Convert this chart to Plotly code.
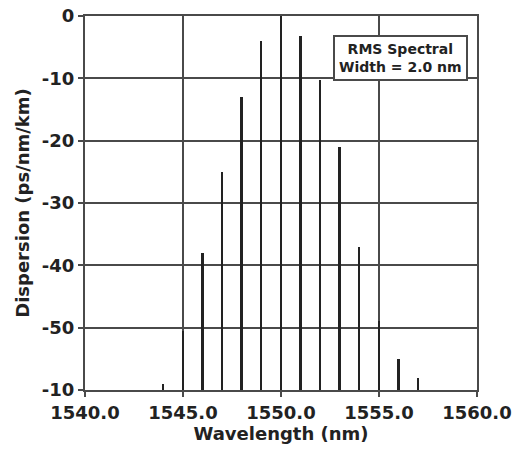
import plotly.graph_objects as go

# Data
wavelength_nm = [1544, 1545, 1546, 1547, 1548, 1549, 1550, 1551, 1552, 1553, 1554, 1555, 1556, 1557]
dispersion = [-59, -50.5, -38, -25, -13, -4, 0, -3.2, -10.3, -21, -37, -49, -55, -58]
y_min = -60
x_ticks = [1540, 1545, 1550, 1555, 1560]
x_tick_labels = ["1540.0", "1545.0", "1550.0", "1555.0", "1560.0"]
y_ticks = [0, -10, -20, -30, -40, -50, -60]
y_tick_labels = ["0", "-10", "-20", "-30", "-40", "-50", "-10"]
note_lines = ["RMS Spectral", "Width = 2.0 nm"]

FONT = "DejaVu Sans"
INK = "#222222"
GRID = "#4a4a4a"

fig = go.Figure()
fig.add_trace(go.Bar(
    x=wavelength_nm,
    y=[v - y_min for v in dispersion],
    base=y_min,
    width=0.1,
    marker=dict(color=INK, line=dict(width=0)),
    showlegend=False,
))

fig.update_layout(
    width=515, height=452,
    margin=dict(l=85, r=38, t=16, b=62),
    paper_bgcolor="white", plot_bgcolor="white",
    font=dict(family=FONT, color=INK, size=18),
    bargap=0,
    xaxis=dict(
        range=[1540, 1560], automargin=False,
        tickvals=x_ticks, ticktext=x_tick_labels,
        showgrid=True, gridcolor=GRID, gridwidth=2,
        showline=True, linecolor=GRID, linewidth=2, mirror=True,
        ticks="outside", ticklen=5, tickwidth=2, tickcolor=GRID,
        tickfont=dict(family=FONT, size=18, color=INK, weight="bold"),
        title=dict(text="<b>Wavelength (nm)</b>", font=dict(family=FONT, size=18, color=INK), standoff=6),
        zeroline=False,
    ),
    yaxis=dict(
        range=[y_min, 0], automargin=False,
        tickvals=y_ticks, ticktext=y_tick_labels,
        showgrid=True, gridcolor=GRID, gridwidth=2,
        showline=True, linecolor=GRID, linewidth=2, mirror=True,
        ticks="outside", ticklen=5, tickwidth=2, tickcolor=GRID,
        tickfont=dict(family=FONT, size=18, color=INK, weight="bold"),
        title=dict(text="<b>Dispersion (ps/nm/km)</b>", font=dict(family=FONT, size=18, color=INK), standoff=8),
        zeroline=False,
    ),
    annotations=[dict(
        xref="paper", yref="paper", x=0.8036, y=0.889,
        xanchor="center", yanchor="middle",
        text="<b>" + "<br>".join(note_lines) + "</b>",
        showarrow=False,
        font=dict(family=FONT, size=14, color=INK),
        bgcolor="white", bordercolor=GRID, borderwidth=2, borderpad=4,
        align="center",
    )],
)

fig.write_html("out.html")
